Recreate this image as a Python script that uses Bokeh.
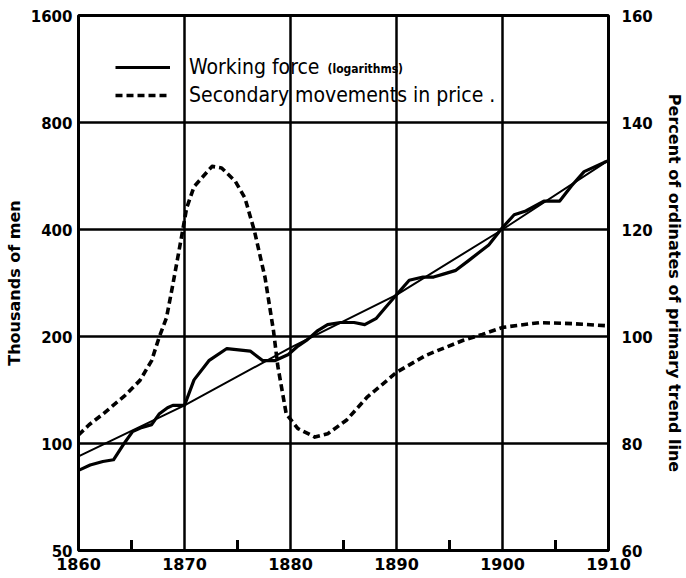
from bokeh.plotting import figure
from bokeh.models import (Range1d, LinearAxis, LinearScale, FixedTicker, NumeralTickFormatter,
                          Legend, LegendItem, Label)
from bokeh.embed import file_html
from bokeh.resources import INLINE

# Working force, thousands of men (log scale)
force_years = [1860, 1861.1, 1862.3, 1863.3, 1864.2, 1865.1, 1866.0, 1866.9, 1867.6, 1868.4, 1868.9,
               1870, 1870.9, 1872.3, 1874, 1876.2, 1877.4, 1878.5, 1879.8, 1880.7, 1881.6, 1882.5,
               1883.5, 1884.7, 1886, 1887, 1888.1, 1889, 1890, 1891.2, 1892.5, 1893.5, 1894.5,
               1895.6, 1896.8, 1898.7, 1900, 1901.1, 1902.2, 1903.9, 1905.4, 1906.5, 1907.7,
               1909.6, 1910]
force = [84, 87, 89, 90, 99, 108, 111, 113, 121, 126, 128,
         128, 151, 171, 185, 182, 171, 171, 178, 188, 196, 207,
         216, 219, 219, 216, 225, 242, 262, 288, 294, 294, 300,
         307, 327, 362, 405, 440, 451, 481, 481, 530, 582,
         618, 625]

# Primary trend line
trend_years = [1860, 1870, 1880, 1890, 1900, 1910]
trend = [92, 128, 186, 262, 400, 626]

# Secondary movements in price, percent of primary trend ordinates
price_years = [1860, 1861, 1862.3, 1864.4, 1865.8, 1866.9, 1867.6, 1868.3, 1868.9, 1869.7,
               1870.2, 1870.9, 1872.6, 1873.5, 1874.8, 1875.7, 1876.6, 1877.6, 1878.4, 1878.8,
               1879.6, 1880.7, 1882.3, 1883.5, 1885.3, 1887.2, 1890, 1892.8, 1896.3, 1898.1,
               1900, 1903.5, 1906.6, 1910]
price = [81.6, 83.5, 85.5, 89, 91.8, 95.5, 99.8, 103.5, 109.7, 118.4,
         124, 128, 131.8, 131.5, 129, 125.9, 119.7, 111, 101, 94.5,
         85.5, 82.8, 81.2, 81.8, 84.4, 88.6, 93.3, 96.5, 99.3, 100.4,
         101.7, 102.6, 102.4, 102]

x_ticks = [1860, 1870, 1880, 1890, 1900, 1910]
x_minor = [1865, 1875, 1885, 1895, 1905]
left_ticks = [50, 100, 200, 400, 800, 1600]
right_ticks = [60, 80, 100, 120, 140, 160]

p = figure(width=686, height=578, x_range=Range1d(1860, 1910), y_range=Range1d(50, 1600),
           y_axis_type="log", output_backend="svg", toolbar_location=None,
           min_border_left=78, min_border_right=71, min_border_top=15, min_border_bottom=28)
p.extra_y_ranges = {"pct": Range1d(60, 160)}
p.extra_y_scales = {"pct": LinearScale()}

p.outline_line_color = "black"
p.outline_line_width = 3
p.background_fill_color = "white"

p.xgrid.ticker = FixedTicker(ticks=x_ticks)
p.ygrid.ticker = FixedTicker(ticks=left_ticks)
for g in (p.xgrid, p.ygrid):
    g.grid_line_color = "black"
    g.grid_line_width = 2.5
    g.grid_line_alpha = 1.0

tick_font = "DejaVu Sans"

xa = p.xaxis[0]
xa.ticker = FixedTicker(ticks=x_ticks)
xa.axis_line_color = "black"
xa.axis_line_width = 3
xa.major_tick_in = 0
xa.major_tick_out = 0
xa.minor_tick_in = 0
xa.minor_tick_out = 0
xa.major_label_text_font = tick_font
xa.major_label_text_font_style = "bold"
xa.major_label_text_font_size = "16px"
xa.major_label_text_color = "black"
xa.major_label_standoff = 7

ya = p.yaxis[0]
ya.ticker = FixedTicker(ticks=left_ticks)
ya.formatter = NumeralTickFormatter(format="0")
ya.axis_line_color = None
ya.major_tick_in = 0
ya.major_tick_out = 0
ya.minor_tick_in = 0
ya.minor_tick_out = 0
ya.major_label_text_font = tick_font
ya.major_label_text_font_style = "bold"
ya.major_label_text_font_size = "15px"
ya.major_label_text_color = "black"
ya.major_label_standoff = 6
ya.axis_label = "Thousands of men"
ya.axis_label_text_font = tick_font
ya.axis_label_text_font_style = "bold"
ya.axis_label_text_font_size = "16px"
ya.axis_label_text_color = "black"
ya.axis_label_standoff = 4

ra = LinearAxis(y_range_name="pct", ticker=FixedTicker(ticks=right_ticks))
ra.axis_line_color = None
ra.major_tick_in = 0
ra.major_tick_out = 0
ra.minor_tick_in = 0
ra.minor_tick_out = 0
ra.major_label_text_font = tick_font
ra.major_label_text_font_style = "bold"
ra.major_label_text_font_size = "15px"
ra.major_label_text_color = "black"
ra.major_label_standoff = 13
ra.axis_label = "Percent of ordinates of primary trend line"
ra.axis_label_text_font = tick_font
ra.axis_label_text_font_style = "bold"
ra.axis_label_text_font_size = "16px"
ra.axis_label_text_color = "black"
ra.axis_label_standoff = 9
p.add_layout(ra, "right")

# small inward tick marks at the half-decades on the bottom edge
tick_len = 1.07  # multiplicative height on the log axis
p.segment(x0=x_minor, y0=[left_ticks[0]] * len(x_minor),
          x1=x_minor, y1=[left_ticks[0] * tick_len] * len(x_minor),
          line_color="black", line_width=3)

r_trend = p.line(trend_years, trend, line_color="black", line_width=2)
r_force = p.line(force_years, force, line_color="black", line_width=3.2, line_join="round")
r_price = p.line(price_years, price, y_range_name="pct", line_color="black", line_width=3.6,
                 line_dash="7 4", line_join="round")

legend = Legend(items=[LegendItem(label="Working force", renderers=[r_force]),
                       LegendItem(label="Secondary movements in price .", renderers=[r_price])],
                location=(37, 443))
legend.padding = 0
legend.margin = 0
legend.spacing = 4
legend.glyph_width = 55
legend.glyph_height = 20
legend.label_height = 20
legend.label_standoff = 19
legend.label_text_font = "DejaVu Sans Condensed"
legend.label_text_font_size = "21px"
legend.label_text_color = "black"
legend.background_fill_alpha = 0
legend.border_line_alpha = 0
p.add_layout(legend)

p.add_layout(Label(x=249, y=482, x_units="screen", y_units="screen", text="(logarithms)",
                   text_font="DejaVu Sans Condensed", text_font_style="bold",
                   text_font_size="12px", text_color="black", text_baseline="middle"))

open("out.html", "w").write(file_html(p, INLINE))
